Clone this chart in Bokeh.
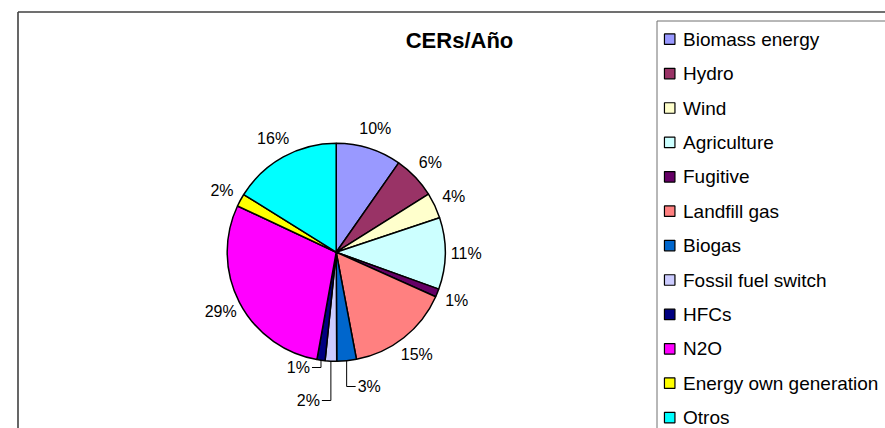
import math
from bokeh.plotting import figure
from bokeh.models import Range1d, ColumnDataSource
from bokeh.embed import file_html
from bokeh.resources import INLINE
from bokeh.core.properties import value

# ---------------- data ----------------
categories = ["Biomass energy", "Hydro", "Wind", "Agriculture", "Fugitive",
              "Landfill gas", "Biogas", "Fossil fuel switch", "HFCs", "N2O",
              "Energy own generation", "Otros"]
shares = [9.7, 6.35, 3.8, 10.6, 1.2, 15.3, 2.9, 1.7, 1.2, 29.1, 1.9, 16.1]
pct_labels = ["10%", "6%", "4%", "11%", "1%", "15%", "3%", "2%", "1%", "29%", "2%", "16%"]
colors = ["#9999FF", "#993366", "#FFFFCC", "#CCFFFF", "#660066", "#FF8080",
          "#0066CC", "#CCCCFF", "#000080", "#FF00FF", "#FFFF00", "#00FFFF"]
title_text = "CERs/Año"

# ---------------- layout (picture pixels) ----------------
W, H = 885, 428
FONT = "Liberation Sans"


def Y(py):
    return H - py


CX, CY, R = 335.7, 251.7, 109.0
LABEL_R = 130.0
# slices whose labels use leader lines: (drop to y, side)
leaders = {"Biogas": (386, 1), "Fossil fuel switch": (400, -1), "HFCs": (367, -1)}

p = figure(width=W, height=H, output_backend="svg", toolbar_location=None,
           x_range=Range1d(0, W), y_range=Range1d(0, H),
           x_axis_location=None, y_axis_location=None, min_border=0,
           background_fill_color="white", border_fill_color="white")
p.outline_line_color = None
p.grid.visible = False

# chart border
p.segment(x0=[17.5, 17.5], y0=[Y(11.5), Y(11.5)], x1=[900, 17.5], y1=[Y(11.5), Y(450)],
          line_color="#404040", line_width=1.6)

# pie
total = sum(shares)
starts, ends, mids = [], [], []
cum = 0.0
for s in shares:
    f0 = cum / total
    cum += s
    f1 = cum / total
    starts.append(math.pi / 2 - 2 * math.pi * f1)
    ends.append(math.pi / 2 - 2 * math.pi * f0)
    mids.append((f0 + f1) / 2)

src = ColumnDataSource(dict(start=starts, end=ends, color=colors, cat=categories))
p.wedge(x=CX, y=Y(CY), radius=R, start_angle="start", end_angle="end",
        fill_color="color", line_color="black", line_width=1.5, source=src)

# labels
lx, ly, lt, la = [], [], [], []
seg_x0, seg_y0, seg_x1, seg_y1 = [], [], [], []
for cat, lab, m in zip(categories, pct_labels, mids):
    ang = 2 * math.pi * m
    if cat in leaders:
        drop, side = leaders[cat]
        ex = CX + R * math.sin(ang)
        ey = CY - R * math.cos(ang)
        hx = ex + side * 9
        seg_x0 += [ex, ex]
        seg_y0 += [Y(ey), Y(drop)]
        seg_x1 += [ex, hx]
        seg_y1 += [Y(drop), Y(drop)]
        lx.append(hx + side * 2)
        ly.append(Y(drop - 0.5))
        lt.append(lab)
        la.append("left" if side > 0 else "right")
    else:
        lx.append(CX + LABEL_R * math.sin(ang))
        ly.append(Y(CY - LABEL_R * math.cos(ang)))
        lt.append(lab)
        la.append("center")

p.segment(x0=seg_x0, y0=seg_y0, x1=seg_x1, y1=seg_y1, line_color="black", line_width=1)
p.text(x=lx, y=ly, text=lt, text_align=la, text_baseline="middle",
       text_font=value(FONT), text_font_size="16px", text_color="black")

# title
p.text(x=[459], y=[Y(40)], text=[title_text], text_align="center", text_baseline="middle",
       text_font=value(FONT), text_font_size="22px", text_font_style="bold", text_color="black")

# legend box
p.segment(x0=[656.5, 656.5], y0=[Y(20.5), Y(20.5)], x1=[900, 656.5], y1=[Y(20.5), Y(450)],
          line_color="#707070", line_width=1)

ITEM0, STEP = 38.7, 34.4
leg_y = [Y(ITEM0 + STEP * i) for i in range(len(categories))]
p.rect(x=[669.2] * len(categories), y=leg_y, width=10.5, height=10.5,
       fill_color=colors, line_color="black", line_width=1.2)
p.text(x=[682.5] * len(categories), y=leg_y, text=categories, text_align="left",
       text_baseline="middle", text_font=value(FONT), text_font_size="19px",
       text_color="black")

open("out.html", "w").write(file_html(p, INLINE))
